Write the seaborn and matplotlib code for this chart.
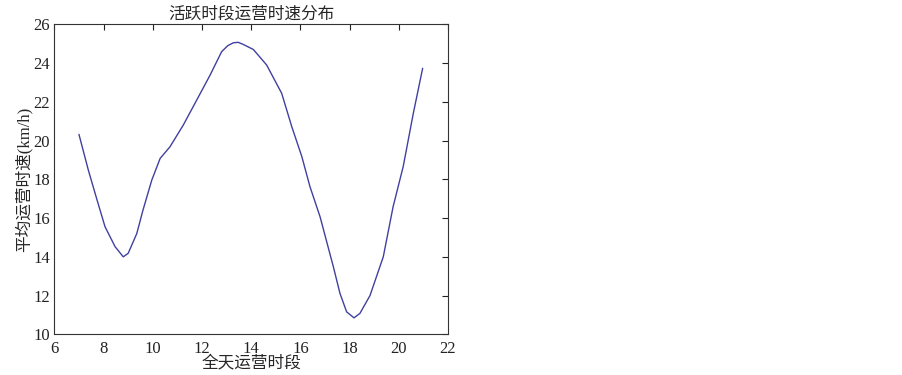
import numpy as np
import pandas as pd
import seaborn as sns
import matplotlib.pyplot as plt

# values
hours = [7.0, 7.38, 7.72, 8.06, 8.47, 8.8, 9.0, 9.35, 9.6, 9.96, 10.3, 10.7,
         11.24, 11.79, 12.33, 12.8, 13.05, 13.28, 13.48, 13.7, 14.09, 14.63,
         15.24, 15.65, 16.06, 16.39, 16.8, 17.34, 17.61, 17.88, 18.18, 18.42,
         18.83, 19.37, 19.77, 20.18, 20.59, 20.97]
speed = [20.32, 18.48, 17.0, 15.55, 14.52, 14.0, 14.18, 15.2, 16.4, 17.96,
         19.08, 19.68, 20.8, 22.1, 23.38, 24.59, 24.9, 25.05, 25.07, 24.95,
         24.7, 23.9, 22.44, 20.72, 19.17, 17.62, 16.07, 13.49, 12.11, 11.16,
         10.85, 11.08, 12.0, 14.0, 16.59, 18.66, 21.4, 23.73]
xticks = [6, 8, 10, 12, 14, 16, 18, 20, 22]
yticks = [10, 12, 14, 16, 18, 20, 22, 24, 26]

df = pd.DataFrame({'hour': hours, 'speed': speed})

sns.set_style('white')
plt.rcParams['font.family'] = ['Liberation Serif', 'Noto Sans CJK SC', 'DejaVu Sans']

fig = plt.figure(figsize=(9.03, 3.75), dpi=100)
ax = fig.add_axes([0.0602, 0.1085, 0.4359, 0.8266])

sns.lineplot(data=df, x='hour', y='speed', ax=ax, color='#4040a0', linewidth=1.0)

ax.set_xlim(6, 22)
ax.set_ylim(10, 26)
ax.set_xticks(xticks)
ax.set_yticks(yticks)
ax.tick_params(direction='in', top=True, right=True, length=4, width=0.8,
               labelsize=12, colors='#222222')
ax.tick_params(axis='x', pad=5)
ax.tick_params(axis='y', pad=3)
for s in ax.spines.values():
    s.set_color('#333333')
    s.set_linewidth(0.8)

ax.set_title('活跃时段运营时速分布', fontsize=12, pad=4)
ax.set_xlabel('全天运营时段', fontsize=12, labelpad=-1)
ax.set_ylabel('平均运营时速(km/h)', fontsize=12, labelpad=1)

fig.savefig('out.png', dpi=100)
